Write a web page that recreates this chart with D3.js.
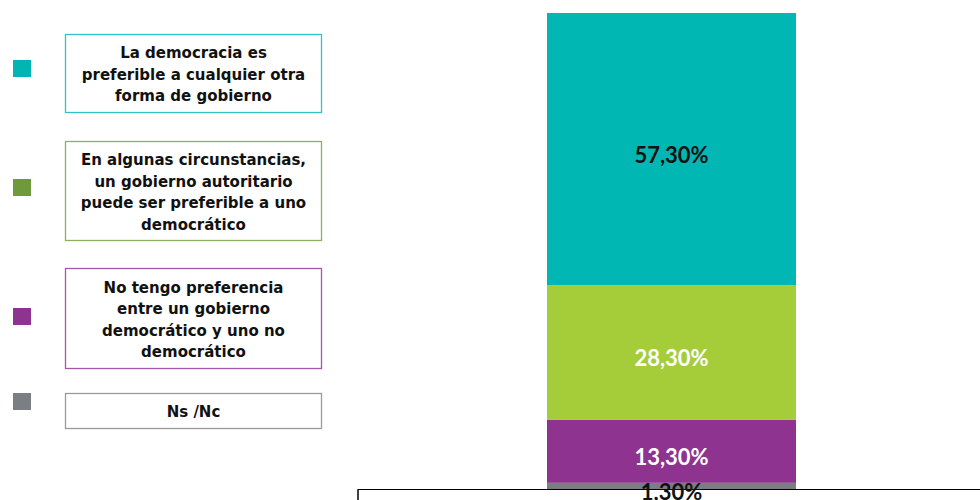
<!DOCTYPE html>
<html><head><meta charset="utf-8">
<script src="https://cdn.jsdelivr.net/npm/d3@7"></script>
<style>body{margin:0;background:#fff}svg{display:block}</style>
</head><body>
<script>
const categories = [
  "La democracia es preferible a cualquier otra forma de gobierno",
  "En algunas circunstancias, un gobierno autoritario puede ser preferible a uno democrático",
  "No tengo preferencia entre un gobierno democrático y uno no democrático",
  "Ns /Nc"
];
const legendLines = [
  ["La democracia es", "preferible a cualquier otra", "forma de gobierno"],
  ["En algunas circunstancias,", "un gobierno autoritario", "puede ser preferible a uno", "democrático"],
  ["No tengo preferencia", "entre un gobierno", "democrático y uno no", "democrático"],
  ["Ns /Nc"]
];
const values = [57.3, 28.3, 13.3, 1.3];
const valueLabels = ["57,30%", "28,30%", "13,30%", "1,30%"];
const barColors = ["#00B7B3", "#A5CD3A", "#8E338F", "#7B7F83"];
const swatchColors = ["#00B5B3", "#6E9A3C", "#8E338F", "#7B7F83"];
const boxColors = ["#2EC3C5", "#8DB05E", "#A455AC", "#9A9A9A"];
const labelColors = ["#111", "#fff", "#fff", "#111"];

const W = 980, H = 500;
const svg = d3.select("body").append("svg").attr("width", W).attr("height", H);
const valFont = "Lato, 'Open Sans', sans-serif";
const legFont = "'DejaVu Sans', sans-serif";

// stack: last category at the bottom, first at the top
let cum = 0;
const stack = [];
for (let i = values.length - 1; i >= 0; i--) {
  stack.push({i, y0: cum, y1: cum + values[i]});
  cum += values[i];
}
const y = d3.scaleLinear().domain([0, cum]).range([489, 13]);
const x = d3.scaleBand().domain(["total"]).range([547, 796]).padding(0);

svg.selectAll("rect.bar").data(stack).enter().append("rect")
  .attr("x", x("total")).attr("width", x.bandwidth())
  .attr("y", d => y(d.y1)).attr("height", d => y(d.y0) - y(d.y1))
  .attr("fill", d => barColors[d.i]);

// axis
const axisG = svg.append("g").attr("transform", "translate(0,489)");
const xAxisScale = d3.scaleLinear().domain([0, 1]).range([357.5, 985]);
axisG.call(d3.axisBottom(xAxisScale).tickValues([0]).tickSize(12).tickFormat(""));
axisG.select(".domain").attr("stroke", "#000");
axisG.selectAll(".tick line").attr("stroke", "#000");

svg.selectAll("text.val").data(stack).enter().append("text")
  .attr("x", x("total") + x.bandwidth() / 2)
  .attr("y", d => d.i === 3 ? 492 : (y(d.y0) + y(d.y1)) / 2 + 6)
  .attr("dy", "0.36em")
  .attr("text-anchor", "middle")
  .attr("font-family", valFont).attr("font-weight", "bold").attr("font-size", 22)
  .attr("fill", d => labelColors[d.i])
  .text(d => valueLabels[d.i]);

// legend
const swatchY = [60, 179, 308, 393];
const boxes = [[34, 112], [141, 240], [268, 368], [393, 428]];
const lg = svg.append("g");
categories.forEach((c, i) => {
  lg.append("rect").attr("x", 13).attr("y", swatchY[i]).attr("width", 18).attr("height", 17)
    .attr("fill", swatchColors[i]);
  const [b0, b1] = boxes[i];
  lg.append("rect").attr("x", 65.5).attr("y", b0 + 0.5).attr("width", 256).attr("height", b1 - b0)
    .attr("fill", "#fff").attr("stroke", boxColors[i]).attr("stroke-width", 1.3);
  const lines = legendLines[i];
  const cy = (b0 + b1) / 2 + 1.5, lh = 21.5;
  const t = lg.append("text").attr("text-anchor", "middle")
    .attr("font-family", legFont).attr("font-weight", "bold").attr("font-size", 15).attr("fill", "#111");
  lines.forEach((l, k) => {
    t.append("tspan").attr("x", 193.5)
      .attr("y", cy + (k - (lines.length - 1) / 2) * lh).attr("dy", "0.36em").text(l);
  });
});
</script>
</body></html>
